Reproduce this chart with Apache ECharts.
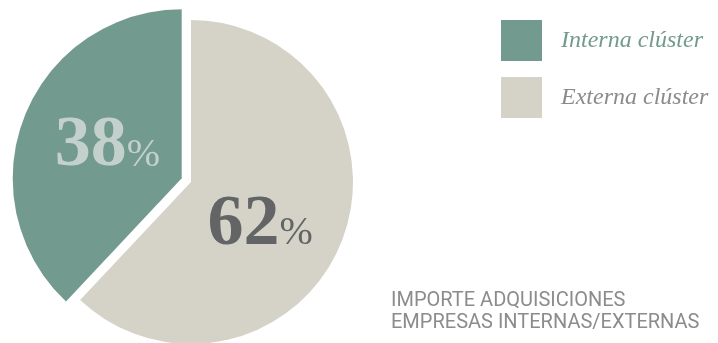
<!DOCTYPE html>
<html>
<head>
<meta charset="utf-8">
<script src="https://cdn.jsdelivr.net/npm/echarts@6/dist/echarts.min.js"></script>
<style>
  html, body { margin: 0; padding: 0; background: #ffffff; }
  #chart { width: 718px; height: 343px; }
</style>
</head>
<body>
<div id="chart"></div>
<script>
// ---- data ----
const categories = ['Interna clúster', 'Externa clúster'];
const values = [38, 62];
const subtitleLines = ['IMPORTE ADQUISICIONES', 'EMPRESAS INTERNAS/EXTERNAS'];

// ---- styles ----
const colors = ['#739a8e', '#d5d3c8'];
const labelColors = ['#c4d0cb', '#636466'];
const legendTextColors = ['#739a8e', '#8b8b8b'];
const labelPadding = [[0, 0, 0, 14], [24, 18, 0, 0]];

const chart = echarts.init(document.getElementById('chart'), null, { renderer: 'canvas' });

function richFor(color) {
  return {
    n: { fontFamily: 'Liberation Serif', fontWeight: 'bold', fontSize: 72, color: color, verticalAlign: 'bottom' },
    p: { fontFamily: 'Liberation Serif', fontWeight: 'normal', fontSize: 40, color: color, verticalAlign: 'bottom', padding: [0, 0, 7, 0] }
  };
}

function makeSeries(idx, radius) {
  return {
    type: 'pie',
    center: [191, 182],
    radius: radius,
    startAngle: 90,
    clockwise: false,
    selectedMode: 'single',
    selectedOffset: 10,
    silent: true,
    animation: false,
    labelLine: { show: false },
    emphasis: { disabled: true },
    data: categories.map((name, i) => ({
      name: name,
      value: values[i],
      selected: idx === 0 && i === 0,
      itemStyle: { color: i === idx ? colors[i] : 'transparent', borderWidth: 0 },
      label: {
        show: i === idx,
        position: 'inside',
        padding: labelPadding[i],
        formatter: p => '{n|' + p.value + '}{p|%}',
        rich: richFor(labelColors[i])
      }
    }))
  };
}

chart.setOption({
  backgroundColor: '#ffffff',
  legend: {
    orient: 'vertical',
    left: 501,
    top: 20,
    padding: 0,
    itemWidth: 41,
    itemHeight: 41,
    itemGap: 16,
    icon: 'rect',
    selectedMode: false,
    data: categories.map((name, i) => ({
      name: name,
      itemStyle: { color: colors[i] },
      textStyle: {
        color: legendTextColors[i],
        fontFamily: 'Liberation Serif',
        fontStyle: 'italic',
        fontSize: 24,
        padding: [0, 0, 0, 14]
      }
    }))
  },
  graphic: [{
    type: 'text',
    left: 391,
    top: 290,
    style: {
      text: subtitleLines.join('\n'),
      fill: '#8c8c8c',
      font: '20px Roboto',
      lineHeight: 22
    }
  }],
  series: [makeSeries(0, 169), makeSeries(1, 162)]
});
</script>
</body>
</html>
